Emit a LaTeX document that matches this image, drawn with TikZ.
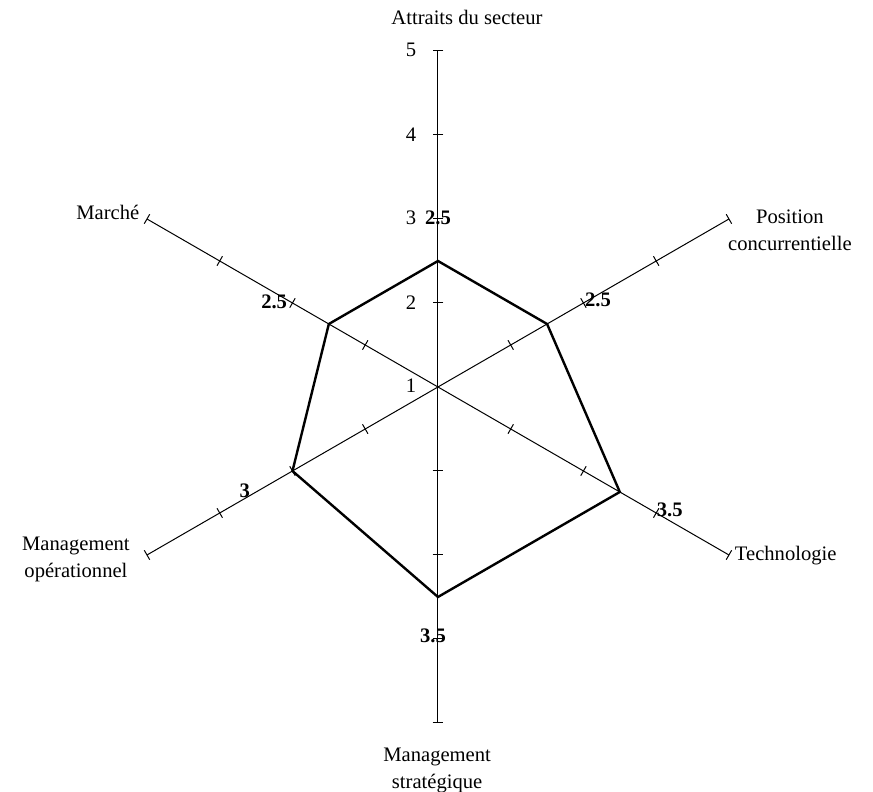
\documentclass[tikz,border=0pt]{standalone}
\usepackage{fontspec}
\setmainfont{Liberation Serif}

\begin{document}
\begin{tikzpicture}[
    x=42pt, y=42pt,
    axis/.style={draw, line width=0.5pt},
    tickmark/.style={draw, line width=0.5pt},
    profile/.style={draw, line width=1.2pt, line join=miter},
    criterion/.style={align=center, font=\fontsize{10.3}{13.5}\selectfont, inner sep=0pt},
    scalelabel/.style={font=\fontsize{10.3}{12}\selectfont, inner sep=0pt},
    score/.style={font=\fontsize{10.3}{12}\selectfont\bfseries, inner sep=0pt}
]

\useasboundingbox (-5.214,-4.821) rectangle (5.179,4.607);

% Axis ends
\coordinate (center) at (0,0);
\coordinate (attraits) at (90:4);
\coordinate (position) at (30:4);
\coordinate (techno) at (-30:4);
\coordinate (strat) at (-90:4);
\coordinate (oper) at (-150:4);
\coordinate (marche) at (150:4);

% Axes
\draw[axis] (center) -- (attraits);
\draw[axis] (center) -- (position);
\draw[axis] (center) -- (techno);
\draw[axis] (center) -- (strat);
\draw[axis] (center) -- (oper);
\draw[axis] (center) -- (marche);

% Tick marks at 2, 3, 4 and 5
\foreach \a in {90,30,-30,-90,-150,150}
  \foreach \k in {1,2,3,4}
    \draw[tickmark, rotate=\a] (\k,-0.065) -- (\k,0.065);

% Scale
\node[scalelabel] (s1) at (-0.32,0.02) {1};
\node[scalelabel] (s2) at (-0.32,1.0) {2};
\node[scalelabel] (s3) at (-0.32,2.02) {3};
\node[scalelabel] (s4) at (-0.32,3.0) {4};
\node[scalelabel] (s5) at (-0.32,4.01) {5};

% Profile
\coordinate (p1) at (90:1.5);
\coordinate (p2) at (30:1.5);
\coordinate (p3) at (-30:2.5);
\coordinate (p4) at (-90:2.5);
\coordinate (p5) at (-150:2);
\coordinate (p6) at (150:1.5);
\draw[profile] (p1) -- (p2) -- (p3) -- (p4) -- (p5) -- (p6) -- cycle;

% Scores
\node[score] (v1) at (0,2.01) {2.5};
\node[score] (v2) at (1.905,1.036) {2.5};
\node[score] (v3) at (2.76,-1.46) {3.5};
\node[score] (v4) at (-0.06,-2.96) {3.5};
\node[score] (v5) at (-2.30,-1.23) {3};
\node[score] (v6) at (-1.95,1.01) {2.5};

% Criteria
\node[criterion] (lattraits) at (0.345,4.40) {Attraits du secteur};
\node[criterion] (lposition) at (4.19,1.87) {Position\\concurrentielle};
\node[criterion] (ltechno) at (4.14,-2.01) {Technologie};
\node[criterion] (lstrat) at (-0.01,-4.57) {Management\\strat\'egique};
\node[criterion] (loper) at (-4.31,-2.05) {Management\\op\'erationnel};
\node[criterion] (lmarche) at (-3.93,2.08) {March\'e};

\end{tikzpicture}
\end{document}
